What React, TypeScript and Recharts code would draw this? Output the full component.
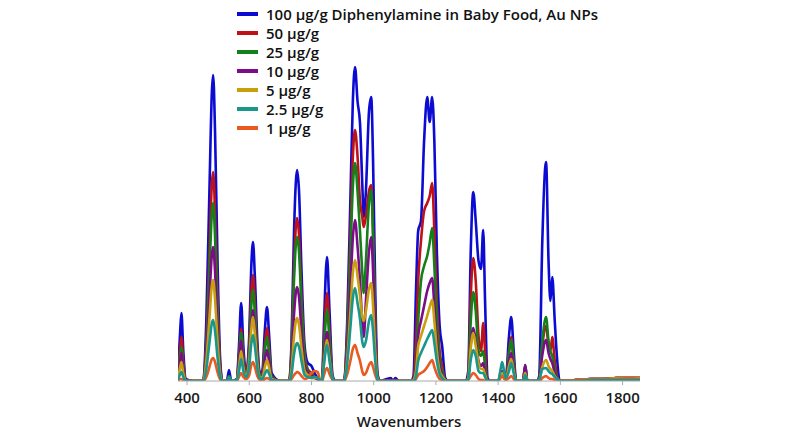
import { LineChart, Line, XAxis, YAxis } from "recharts";

// wavenumber grid (cm-1), grouped by spectral region
const wavenumbers = [
  371, 378, 382, 388, 396, 420, 445,
  452, 462, 472, 480, 484, 490, 498, 506, 514,
  528, 535, 542, 560, 567, 574, 581, 590, 600, 606, 612, 618, 626, 634, 642, 650, 657, 664, 672, 700,
  728, 736, 744, 750, 754, 760, 768, 778, 788, 800, 810, 820, 828, 834, 840, 850, 858, 868, 878,
  905, 915, 925, 933, 940, 948, 956, 963, 968, 975, 985, 992, 998, 1005, 1012, 1020,
  1055, 1062, 1070, 1080, 1120, 1128, 1136, 1143, 1152, 1162, 1172, 1180, 1188, 1195, 1203, 1212, 1220, 1230, 1240,
  1296, 1304, 1312, 1320, 1328, 1337, 1345, 1352, 1358, 1366, 1375, 1400, 1408, 1413, 1420, 1425, 1435, 1442, 1450, 1458, 1480, 1487, 1494, 1525,
  1532, 1542, 1554, 1562, 1568, 1574, 1582, 1590, 1598, 1650, 1700, 1740, 1780, 1820, 1856,
];

const conc100 = [
  8, 50, 68, 30, 2, 0, 0,
  0, 60, 190, 290, 306, 250, 120, 25, 0,
  0, 11, 0, 2, 35, 78, 35, 8, 45, 110, 139, 105, 40, 8, 10, 50, 74, 45, 8, 0,
  0, 40, 150, 200, 211, 190, 110, 35, 18, 15, 8, 3, 1, 0, 55, 124, 70, 5, 0,
  0, 60, 180, 280, 314, 280, 258, 200, 164, 190, 270, 284, 220, 90, 8, 0,
  3, 0, 3, 0, 0, 5, 90, 150, 160, 240, 284, 259, 284, 240, 130, 55, 35, 3, 0,
  0, 10, 130, 189, 160, 120, 112, 151, 80, 3, 0, 0, 6, 10, 5, 4, 45, 64, 30, 0, 0, 14, 0, 0,
  5, 140, 219, 120, 80, 104, 60, 20, 0, 1, 2, 2, 3, 3, 3,
];

const conc50 = [
  5, 33, 44, 20, 1, 0, 0,
  0, 40, 130, 198, 209, 170, 82, 17, 0,
  0, 5, 0, 1, 25, 52, 24, 6, 35, 84, 106, 80, 30, 6, 7, 36, 53, 32, 5, 0,
  0, 31, 116, 155, 163, 146, 85, 27, 12, 8, 4, 2, 1, 0, 39, 88, 50, 3, 0,
  0, 48, 144, 224, 251, 225, 180, 165, 154, 165, 190, 196, 150, 60, 5, 0,
  1, 0, 1, 0, 0, 2, 40, 100, 140, 170, 178, 185, 198, 150, 80, 30, 15, 1, 0,
  0, 5, 85, 123, 100, 45, 30, 58, 30, 0, 0, 0, 5, 8, 4, 3, 30, 44, 20, 0, 0, 10, 0, 0,
  2, 35, 55, 35, 30, 44, 20, 5, 0, 1, 2, 2, 3, 3, 3,
];

const conc25 = [
  4, 26, 34, 15, 1, 0, 0,
  0, 34, 110, 168, 178, 145, 70, 14, 0,
  0, 5, 0, 1, 22, 48, 22, 6, 30, 72, 91, 69, 26, 5, 6, 30, 44, 27, 4, 0,
  0, 27, 102, 137, 144, 129, 75, 24, 10, 6, 4, 2, 1, 0, 31, 71, 40, 3, 0,
  0, 42, 125, 194, 218, 190, 150, 110, 88, 120, 178, 191, 145, 58, 5, 0,
  0, 0, 1, 0, 0, 1, 20, 60, 100, 115, 125, 138, 153, 115, 60, 22, 10, 1, 0,
  0, 4, 60, 89, 70, 30, 25, 30, 15, 0, 0, 0, 5, 8, 4, 3, 28, 41, 19, 0, 0, 16, 0, 0,
  2, 40, 64, 40, 30, 25, 12, 4, 0, 1, 2, 2, 3, 3, 3,
];

const conc10 = [
  3, 21, 28, 12, 1, 0, 0,
  0, 26, 83, 127, 134, 110, 52, 11, 0,
  0, 4, 0, 1, 18, 40, 18, 5, 23, 56, 71, 54, 20, 4, 4, 21, 31, 19, 3, 0,
  0, 18, 67, 89, 94, 84, 49, 15, 8, 5, 3, 2, 1, 0, 22, 49, 28, 2, 0,
  0, 31, 92, 143, 161, 135, 100, 60, 44, 80, 130, 144, 110, 45, 4, 0,
  1, 0, 1, 0, 0, 1, 15, 45, 60, 75, 90, 98, 103, 75, 40, 15, 6, 1, 0,
  0, 3, 36, 53, 40, 20, 15, 18, 8, 0, 0, 0, 8, 10, 5, 3, 20, 28, 13, 0, 0, 16, 0, 0,
  2, 26, 41, 28, 22, 18, 8, 3, 0, 1, 2, 2, 3, 3, 3,
];

const conc5 = [
  2, 14, 19, 8, 0, 0, 0,
  0, 20, 63, 96, 101, 82, 40, 8, 0,
  0, 3, 0, 1, 14, 30, 14, 5, 21, 50, 64, 48, 18, 4, 3, 14, 21, 13, 2, 0,
  0, 12, 45, 60, 63, 56, 33, 10, 6, 3, 3, 3, 1, 0, 18, 41, 23, 2, 0,
  0, 23, 69, 108, 121, 105, 85, 65, 60, 70, 92, 98, 75, 30, 3, 0,
  0, 0, 0, 0, 0, 1, 10, 35, 45, 55, 65, 74, 81, 60, 30, 10, 5, 1, 0,
  0, 3, 33, 48, 35, 18, 12, 12, 6, 0, 0, 0, 5, 8, 4, 3, 15, 22, 10, 0, 0, 8, 0, 0,
  1, 14, 21, 15, 12, 10, 5, 2, 0, 1, 2, 2, 3, 3, 3,
];

const conc2_5 = [
  1, 7, 9, 4, 0, 0, 0,
  0, 12, 38, 58, 61, 50, 24, 5, 0,
  0, 4, 0, 1, 10, 22, 10, 4, 15, 36, 46, 35, 13, 3, 2, 7, 11, 7, 1, 0,
  0, 7, 27, 36, 38, 34, 20, 6, 4, 3, 4, 3, 1, 0, 16, 36, 20, 2, 0,
  0, 18, 53, 83, 93, 78, 62, 40, 34, 40, 60, 66, 50, 20, 2, 0,
  0, 0, 0, 0, 0, 0, 5, 20, 28, 35, 42, 47, 51, 38, 20, 7, 3, 0, 0,
  0, 2, 21, 31, 25, 10, 8, 8, 4, 0, 0, 0, 12, 19, 8, 3, 10, 18, 8, 0, 0, 6, 0, 0,
  1, 12, 13, 10, 8, 7, 4, 2, 0, 0, 1, 1, 1, 1, 1,
];

const conc1 = [
  0, 2, 2, 1, 0, 0, 0,
  0, 4, 14, 22, 23, 19, 9, 2, 0,
  0, 1, 0, 0, 4, 8, 4, 2, 6, 15, 19, 14, 5, 1, 0, 2, 3, 2, 0, 0,
  0, 2, 6, 8, 9, 8, 5, 2, 3, 8, 10, 9, 1, 0, 6, 13, 7, 1, 0,
  0, 7, 20, 32, 36, 28, 20, 10, 6, 8, 16, 19, 14, 6, 1, 0,
  0, 0, 0, 0, 0, 0, 2, 6, 8, 10, 14, 18, 21, 14, 7, 2, 1, 0, 0,
  0, 1, 5, 8, 6, 2, 1, 1, 0, 0, 0, 0, 3, 5, 2, 1, 3, 5, 2, 0, 0, 2, 0, 0,
  0, 3, 5, 3, 2, 2, 1, 0, 0, 1, 2, 2, 2, 3, 2,
];

const xTicks = [400, 600, 800, 1000, 1200, 1400, 1600, 1800];

const series = [
  { key: "c100", name: "100 µg/g Diphenylamine in Baby Food, Au NPs", color: "#0b0bd2", values: conc100 },
  { key: "c50", name: "50 µg/g", color: "#be1218", values: conc50 },
  { key: "c25", name: "25 µg/g", color: "#13801a", values: conc25 },
  { key: "c10", name: "10 µg/g", color: "#7c0c88", values: conc10 },
  { key: "c5", name: "5 µg/g", color: "#c9a00c", values: conc5 },
  { key: "c2_5", name: "2.5 µg/g", color: "#1a978c", values: conc2_5 },
  { key: "c1", name: "1 µg/g", color: "#ea5a20", values: conc1 },
];

// teal sits on top of the baseline in the original, so draw it last
const drawOrder = ["c100", "c50", "c25", "c10", "c5", "c1", "c2_5"];

const rows = wavenumbers.map((wn, i) => {
  const r: Record<string, number> = { wn };
  series.forEach((s) => (r[s.key] = s.values[i]));
  return r;
});

const font = "'Open Sans', 'Noto Sans', sans-serif";

export default function App() {
  return (
    <div style={{ position: "relative", width: 800, height: 442, background: "#fff", fontFamily: font }}>
      <style>{`body{margin:0}`}</style>
      <LineChart width={800} height={442} data={rows} margin={{ top: 61, right: 160, bottom: 11, left: 178 }}>
        <XAxis
          dataKey="wn"
          type="number"
          domain={[371, 1856]}
          ticks={xTicks}
          allowDataOverflow
          height={50}
          tick={{ fill: "#1a1a1a", fontSize: 15, fontWeight: 600, fontFamily: font }}
          tickSize={4}
          tickMargin={7}
          tickLine={{ stroke: "#aaa" }}
          axisLine={{ stroke: "#aaa" }}
          label={{
            value: "Wavenumbers",
            position: "insideBottom",
            offset: 4,
            fill: "#1a1a1a",
            fontSize: 15,
            fontWeight: 600,
            fontFamily: font,
          }}
        />
        <YAxis hide domain={[0, 320]} allowDataOverflow />
        {drawOrder.map((k) => {
          const s = series.find((x) => x.key === k)!;
          return (
            <Line
              key={s.key}
              dataKey={s.key}
              name={s.name}
              type="monotone"
              stroke={s.color}
              strokeWidth={2.6}
              dot={false}
              isAnimationActive={false}
            />
          );
        })}
      </LineChart>
      <div style={{ position: "absolute", left: 237, top: 4 }}>
        {series.map((s) => (
          <div
            key={s.key}
            style={{ display: "flex", alignItems: "center", height: 19, fontSize: 15, fontWeight: 600, color: "#111" }}
          >
            <span style={{ width: 21, height: 4, background: s.color, marginRight: 8 }} />
            <span>{s.name}</span>
          </div>
        ))}
      </div>
    </div>
  );
}
